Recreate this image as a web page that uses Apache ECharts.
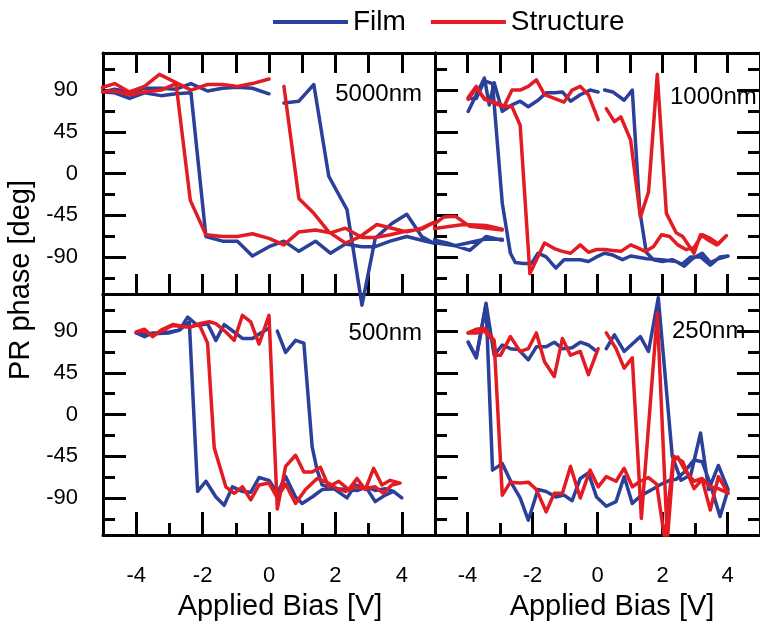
<!DOCTYPE html>
<html><head><meta charset="utf-8">
<script src="https://cdn.jsdelivr.net/npm/echarts@6/dist/echarts.min.js"></script>
<style>html,body{margin:0;padding:0;background:#fff}#c{width:760px;height:627px}</style>
</head><body><div id="c"></div>
<script>
// ---------- tick / label values ----------
const xMajor = [-4, -2, 0, 2, 4];
const xMinor = [-3, -1, 1, 3];
const xAll = [-4, -3, -2, -1, 0, 1, 2, 3, 4];
const yMajor = [-90, -45, 0, 45, 90];
const yMinor = [-112.5, -67.5, -22.5, 22.5, 67.5, 112.5];
const panelNames = ['5000nm', '1000nm', '500nm', '250nm'];
const seriesNames = ['Film', 'Structure'];
const xTitle = 'Applied Bias [V]';
const yTitle = 'PR phase [deg]';

// ---------- data: each array is a list of line segments of [bias, phase] ----------
const film5000 = [
  [[0.45,76],[0.9,78],[1.35,96],[1.8,-3],[2.35,-39],[2.8,-142],[3.2,-70],[3.7,-54],[4.15,-44],[4.6,-68],[4.95,-75],
   [4.95,-76],[4.6,-72],[4.15,-68],[3.65,-73],[3.2,-79],[2.8,-79],[2.3,-76],[1.85,-86],[1.4,-73],[0.9,-84],[0.45,-73],[0,-79],[-0.5,-89],[-0.95,-73],[-1.4,-73],[-1.9,-68],[-2.35,87],[-2.8,86],[-3.25,84],[-3.75,87],[-4.2,81],[-4.65,87],[-5,88],
   [-5,90],[-4.65,91],[-4.2,88],[-3.75,92],[-3.25,92],[-2.8,91],[-2.35,97],[-1.85,89],[-1.4,92],[-0.95,93],[-0.5,92],[0,86]]
];
const structure5000 = [
  [[0.45,94],[0.9,-27],[1.35,-43],[1.8,-63],[2.3,-75],[2.75,-68],[3.25,-55],[3.7,-59],[4.15,-63],[4.6,-59],[4.95,-53],
   [4.95,-55],[4.6,-60],[4.15,-62],[3.65,-66],[3.2,-69],[2.8,-69],[2.3,-59],[1.85,-64],[1.4,-61],[0.9,-63],[0.45,-77],[0,-70],[-0.5,-65],[-0.95,-68],[-1.4,-68],[-1.9,-66],[-2.37,-29],[-2.8,97],[-3.25,90],[-3.75,88],[-4.2,85],[-4.65,89],[-5.1,88],
   [-5.1,92],[-4.65,97],[-4.2,88],[-3.75,94],[-3.3,107],[-2.85,99],[-2.35,90],[-1.85,96],[-1.4,96],[-0.95,94],[-0.5,97],[0,102]]
];
const film1000 = [
  [[-2.93,-72],[-3.43,-68],[-3.93,-83],[-4.63,-75],[-5.13,-71],[-5.13,-74],[-4.38,-78],[-3.48,-71],[-2.93,-71]],
  [[-3.98,67],[-3.73,85],[-3.48,103],[-3.33,74],[-3.18,98],[-2.93,67],[-2.63,74],[-2.38,78],[-2.13,72],[-1.83,79],[-1.58,87],[-1.33,87],[-1.08,88],[-0.83,78],[-0.53,85],[-0.23,90],[0.02,88]],
  [[0.22,90],[0.47,88],[0.82,79],[1.07,90],[1.3,-40],[1.5,-85],[1.72,-93],[2.0,-95],[2.3,-93],[2.6,-98],[2.87,-90],[3.17,-90],[3.47,-99],[3.77,-90],[4.02,-89],
   [3.72,-92],[3.47,-96],[3.22,-86],[2.92,-92],[2.67,-100],[2.42,-95],[1.97,-93],[1.52,-92],[1.02,-89],[0.77,-93],[0.47,-88],[0.22,-86],[-0.03,-90],[-0.28,-95],[-0.53,-93],[-1.03,-93],[-1.28,-102],[-1.58,-90],[-1.83,-86],[-2.03,-97],[-2.28,-97],[-2.53,-96],[-2.68,-86],[-2.93,-32],[-3.23,97],[-3.48,100],[-3.73,81],[-3.98,81]]
];
const structure1000 = [
  [[-2.93,-61],[-3.93,-57],[-4.38,-46],[-4.73,-47],[-5.13,-57],[-5.13,-60],[-4.13,-55],[-3.43,-56],[-2.93,-60]],
  [[-3.98,80],[-3.73,92],[-3.48,81],[-3.18,76],[-2.88,72],[-2.63,90],[-2.38,90],[-2.13,94],[-1.88,101],[-1.63,85],[-1.33,81],[-1.03,77],[-0.78,90],[-0.53,94],[-0.28,85],[0.02,58]],
  [[0.27,70],[0.52,56],[0.72,61],[1.02,36],[1.32,-47],[1.57,-20],[1.84,107],[2.12,-43],[2.42,-64],[2.62,-68],[2.97,-86],[3.17,-66],[3.42,-72],[3.67,-77],[3.97,-67],
   [3.72,-76],[3.47,-70],[3.22,-66],[2.97,-80],[2.72,-82],[2.47,-77],[2.22,-68],[1.97,-66],[1.72,-79],[1.47,-84],[1.22,-80],[1.02,-77],[0.72,-84],[0.47,-83],[0.22,-82],[-0.03,-82],[-0.28,-85],[-0.53,-77],[-0.83,-86],[-1.08,-84],[-1.33,-81],[-1.63,-75],[-2.08,-108],[-2.38,52],[-2.63,72],[-2.88,73],[-3.18,77],[-3.48,80],[-3.73,94],[-3.98,82]]
];
const film500 = [
  [[-4.0,88],[-3.75,84],[-3.5,88],[-3.25,88],[-3.0,89],[-2.7,91],[-2.45,105],[-2.15,96],[-1.85,98],[-1.6,80],[-1.35,97],[-1.05,89],[-0.8,82],[-0.5,82],[-0.25,88],[0,93]],
  [[0.25,90],[0.5,67],[0.8,80],[1.05,77],[1.3,-35],[1.45,-60],[1.6,-76],[1.95,-80],[2.35,-90],[2.6,-76],[2.95,-80],[3.2,-94],[3.5,-87],[3.75,-83],[4.0,-90],
   [3.75,-83],[3.5,-80],[3.2,-82],[2.95,-78],[2.65,-82],[2.4,-81],[2.0,-80],[1.6,-81],[1.3,-89],[1.0,-96],[0.8,-89],[0.5,-67],[0.25,-85],[0,-71],[-0.3,-68],[-0.55,-84],[-0.8,-83],[-1.1,-78],[-1.35,-98],[-1.6,-89],[-1.9,-72],[-2.15,-83],[-2.4,100],[-2.7,91],[-3.0,88],[-3.5,87],[-4.0,88]]
];
const structure500 = [
  [[-4.0,89],[-3.75,92],[-3.5,84],[-3.25,91],[-2.9,97],[-2.4,94],[-2.1,98],[-1.8,100],[-1.6,98],[-1.3,89],[-1.05,80],[-0.8,107],[-0.55,100],[-0.3,76],[0,107],
   [0.25,-102],[0.5,-56],[0.8,-44],[1.05,-62],[1.3,-62],[1.55,-57],[1.8,-78],[2.1,-72],[2.4,-81],[2.65,-69],[2.9,-81],[3.15,-58],[3.4,-76],[3.65,-71],[3.95,-74],
   [3.7,-76],[3.45,-85],[3.2,-78],[2.9,-80],[2.6,-78],[2.3,-83],[2.05,-80],[1.8,-74],[1.45,-69],[1.1,-81],[0.8,-96],[0.5,-75],[0.25,-90],[0,-74],[-0.3,-76],[-0.55,-92],[-0.8,-78],[-1.05,-85],[-1.3,-78],[-1.65,-36],[-1.85,77],[-2.1,97],[-2.4,94],[-2.9,96],[-3.25,90],[-3.5,85],[-3.75,90],[-4.0,89]]
];
const film250 = [
  [[-3.98,78],[-3.73,61],[-3.43,120],[-3.18,64],[-2.93,75],[-2.68,71],[-2.43,70],[-2.13,59],[-1.88,73],[-1.58,73],[-1.33,78],[-1.08,71],[-0.78,72],[-0.53,78],[-0.28,75],[-0.03,68]],
  [[0.27,71],[0.52,86],[0.82,68],[1.07,76],[1.32,84],[1.57,68],[1.87,126],[2.3,-45],[2.57,-71],[2.87,-65],[3.17,-20],[3.42,-81],[3.72,-55],[4.02,-81],
   [3.77,-110],[3.47,-75],[3.22,-51],[2.97,-49],[2.67,-62],[2.42,-70],[2.22,-71],[1.97,-75],[1.72,-80],[1.32,-88],[1.07,-96],[0.82,-67],[0.57,-94],[0.27,-99],[-0.03,-89],[-0.28,-63],[-0.53,-69],[-0.78,-93],[-1.03,-87],[-1.28,-89],[-1.58,-83],[-1.83,-81],[-2.13,-114],[-2.38,-90],[-2.63,-75],[-2.93,-53],[-3.23,-60],[-3.43,118],[-3.73,62],[-3.98,78]]
];
const structure250 = [
  [[-3.98,88],[-3.73,92],[-3.48,93],[-3.18,80],[-3.13,64],[-2.98,64],[-2.68,84],[-2.38,68],[-2.13,71],[-1.88,88],[-1.63,57],[-1.33,41],[-1.08,82],[-0.83,64],[-0.53,68],[-0.28,43],[0.02,71]],
  [[0.27,88],[0.57,71],[0.82,50],[1.07,61],[1.35,-112],[1.84,109],[2.15,-135],[2.35,-45],[2.62,-51],[2.97,-80],[3.22,-70],[3.47,-103],[3.72,-67],[4.02,-85],
   [3.72,-80],[3.47,-78],[3.22,-69],[2.97,-72],[2.72,-62],[2.47,-46],[2.32,-50],[2.07,-135],[1.82,-75],[1.57,-68],[1.32,-72],[1.07,-78],[0.82,-58],[0.57,-72],[0.27,-67],[0.02,-78],[-0.23,-60],[-0.53,-90],[-0.83,-56],[-1.08,-85],[-1.33,-85],[-1.58,-105],[-1.88,-81],[-2.13,-73],[-2.38,-74],[-2.68,-73],[-2.93,-87],[-3.18,78],[-3.48,90],[-3.73,88],[-3.98,88]]
];

const panelFilm = [film5000, film1000, film500, film250];
const panelStructure = [structure5000, structure1000, structure500, structure250];

// ---------- layout / style ----------
const FONT = '"Liberation Sans", Arial, Helvetica, sans-serif';
const BLUE = '#2b409a', RED = '#e31b23', BLACK = '#000';
const LW = 3, SW = 3.5;
const gridPos = [
  {left: 103, top: 53, width: 332, height: 241},
  {left: 435, top: 53, width: 332, height: 241},
  {left: 103, top: 294, width: 332, height: 241},
  {left: 435, top: 294, width: 332, height: 241}
];
const labelPos = [
  {x: 422, y: 94, align: 'right'},
  {x: 670, y: 97, align: 'left'},
  {x: 422, y: 333, align: 'right'},
  {x: 672, y: 331, align: 'left'}
];

const xAxes = [], yAxes = [], series = [];
const lineAx = {show: true, onZero: false, lineStyle: {color: BLACK, width: LW}};
const noLine = {show: false, onZero: false};
function xa(g, pos, opts) {
  xAxes.push(Object.assign({
    gridIndex: g, type: 'value', min: -5, max: 5, position: pos,
    axisLine: noLine, axisTick: {show: false}, axisLabel: {show: false},
    splitLine: {show: false}
  }, opts));
  return xAxes.length - 1;
}
function ya(g, pos, opts) {
  yAxes.push(Object.assign({
    gridIndex: g, type: 'value', min: -130, max: 130, position: pos,
    axisLine: noLine, axisTick: {show: false}, axisLabel: {show: false},
    splitLine: {show: false}
  }, opts));
  return yAxes.length - 1;
}
function tick(len, vals) {
  return {show: true, inside: true, length: len, customValues: vals, lineStyle: {color: BLACK, width: LW}};
}

for (let g = 0; g < 4; g++) {
  const isTop = g < 2, isLeft = g % 2 === 0;
  const xMain = xa(g, 'bottom', {
    axisLine: lineAx,
    axisTick: isTop ? tick(20, xAll) : tick(23, xMajor),
    axisLabel: isTop ? {show: false} : {show: true, customValues: xMajor, margin: 30,
      fontSize: 22, fontFamily: FONT, color: BLACK}
  });
  if (!isTop) xa(g, 'bottom', {axisTick: tick(12, xMinor)});
  xa(g, 'top', {axisLine: lineAx, axisTick: isTop ? tick(20, xAll) : {show: false}});
  const yMain = ya(g, 'left', {
    axisLine: lineAx, axisTick: tick(23, yMajor),
    axisLabel: isLeft ? {show: true, customValues: yMajor, margin: 25, fontSize: 22,
      fontFamily: FONT, color: BLACK} : {show: false}
  });
  ya(g, 'left', {axisTick: tick(12, yMinor)});
  ya(g, 'right', {axisLine: lineAx, axisTick: isLeft ? {show: false} : tick(23, yMajor)});
  if (!isLeft) ya(g, 'right', {axisTick: tick(12, yMinor)});

  [[panelFilm[g], BLUE, seriesNames[0]], [panelStructure[g], RED, seriesNames[1]]].forEach(([segs, col, nm]) => {
    segs.forEach(seg => {
      series.push({
        type: 'line', name: nm, xAxisIndex: xMain, yAxisIndex: yMain, data: seg,
        symbol: 'none', showSymbol: false, clip: !(g === 0 && nm === 'Film'),
        lineStyle: {color: col, width: SW, join: 'round', cap: 'round'}, itemStyle: {color: col},
        silent: true, z: nm === 'Film' ? 2 : 3
      });
    });
  });
}

const graphic = [];
panelNames.forEach((t, i) => {
  graphic.push({type: 'text', x: labelPos[i].x, y: labelPos[i].y, z: 10,
    style: {text: t, fill: BLACK, font: '24px ' + FONT, align: labelPos[i].align, verticalAlign: 'middle'}});
});
graphic.push({type: 'text', x: 280, y: 607, style: {text: xTitle, fill: BLACK, font: '29px ' + FONT, align: 'center', verticalAlign: 'middle'}});
graphic.push({type: 'text', x: 612, y: 607, style: {text: xTitle, fill: BLACK, font: '29px ' + FONT, align: 'center', verticalAlign: 'middle'}});
graphic.push({type: 'text', x: 21, y: 280, rotation: Math.PI / 2, style: {text: yTitle, fill: BLACK, font: '29px ' + FONT, align: 'center', verticalAlign: 'middle'}});

const chart = echarts.init(document.getElementById('c'), null, {renderer: 'canvas'});
chart.setOption({
  animation: false,
  backgroundColor: '#fff',
  grid: gridPos.map(p => Object.assign({containLabel: false}, p)),
  xAxis: xAxes,
  yAxis: yAxes,
  legend: {
    data: seriesNames, top: 3, left: 268, icon: 'rect', itemWidth: 75, itemHeight: 4, itemGap: 25,
    textStyle: {fontSize: 28, fontFamily: FONT, color: BLACK}
  },
  graphic: graphic,
  series: series
});
</script>
</body></html>
